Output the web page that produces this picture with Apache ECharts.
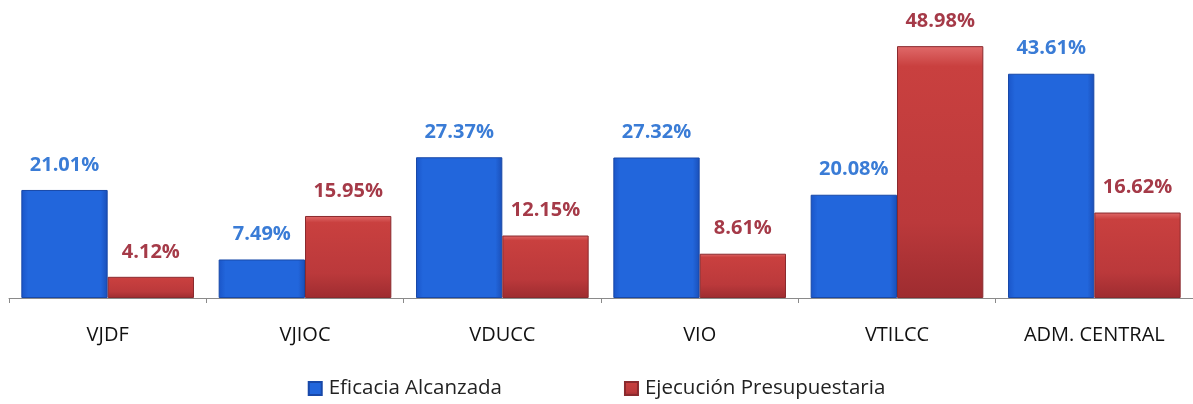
<!DOCTYPE html>
<html>
<head>
<meta charset="utf-8">
<script src="https://cdn.jsdelivr.net/npm/echarts@6/dist/echarts.min.js"></script>
<style>
  html, body { margin: 0; padding: 0; background: #fff; }
  #chart { width: 1193px; height: 404px; }
</style>
</head>
<body>
<div id="chart"></div>
<script>
const categories = ['VJDF', 'VJIOC', 'VDUCC', 'VIO', 'VTILCC', 'ADM. CENTRAL']
const eficacia = [21.01, 7.49, 27.37, 27.32, 20.08, 43.61]
const ejecucion = [4.12, 15.95, 12.15, 8.61, 48.98, 16.62]

const blueFill = new echarts.graphic.LinearGradient(0, 0, 1, 0, [
  { offset: 0, color: '#1a55c8' },
  { offset: 0.08, color: '#2266dc' },
  { offset: 0.92, color: '#2266dc' },
  { offset: 1, color: '#1a4fb8' },
])
const redFill = new echarts.graphic.LinearGradient(0, 0, 0, 1, [
  { offset: 0, color: '#e06a6a' },
  { offset: 0.08, color: '#c9403f' },
  { offset: 0.7, color: '#bb393b' },
  { offset: 1, color: '#9e2c30' },
])

const pct = p => p.value.toFixed(2) + '%'

const chart = echarts.init(document.getElementById('chart'))
chart.setOption({
  animation: false,
  textStyle: { fontFamily: 'Open Sans, Noto Sans, sans-serif' },
  legend: {
    bottom: 0,
    left: 'center',
    itemWidth: 13,
    itemHeight: 13,
    itemGap: 122,
    icon: 'rect',
    textStyle: { fontSize: 20.5, color: '#222', padding: [0, 0, 0, 2] },
    data: ['Eficacia Alcanzada', 'Ejecución Presupuestaria'],
  },
  grid: { left: 9, top: 45, width: 1188, height: 253 },
  xAxis: {
    type: 'category',
    data: categories,
    axisLine: { lineStyle: { color: '#8a8a8a' } },
    axisTick: { show: true, length: 5, lineStyle: { color: '#8a8a8a' } },
    axisLabel: { color: '#111', fontSize: 20, margin: 27 },
  },
  yAxis: {
    type: 'value',
    min: 0,
    max: 49.2,
    show: false,
    splitLine: { show: false },
  },
  series: [
    {
      name: 'Eficacia Alcanzada',
      type: 'bar',
      data: eficacia,
      barGap: '0%',
      barCategoryGap: '12.5%',
      itemStyle: { color: blueFill, borderColor: '#1848a8', borderWidth: 1 },
      label: {
        show: true,
        position: 'top',
        distance: 15,
        color: '#3a7cd6',
        fontWeight: 'bold',
        fontSize: 20,
        formatter: pct,
      },
    },
    {
      name: 'Ejecución Presupuestaria',
      type: 'bar',
      data: ejecucion,
      itemStyle: { color: redFill, borderColor: '#8a2a2e', borderWidth: 1 },
      label: {
        show: true,
        position: 'top',
        distance: 15,
        color: '#a53a48',
        fontWeight: 'bold',
        fontSize: 20,
        formatter: pct,
      },
    },
  ],
})
</script>
</body>
</html>
